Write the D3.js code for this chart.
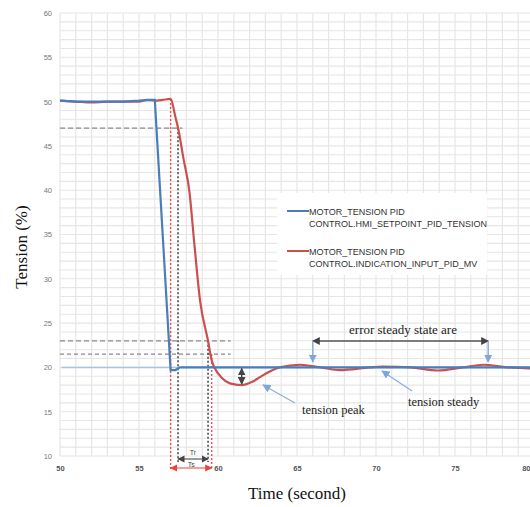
<!DOCTYPE html>
<html><head><meta charset="utf-8">
<script src="https://cdn.jsdelivr.net/npm/d3@7"></script>
<style>body{margin:0;background:#fff}</style>
</head><body>
<svg id="c" width="530" height="507"></svg>
<script>
const xTicks = [50,55,60,65,70,75,80];
const yTicks = [10,15,20,25,30,35,40,45,50,55,60];
const setpointT = [50,51,52,53,54,55,55.7,56.0,57.0,57.3,57.6,80];
const setpointV = [50.1,50.0,50.0,50.0,50.0,50.1,50.2,50.2,19.7,19.7,20.0,20.0];
const mvT = [50,51,52,53,54,55,55.5,56,56.5,57.0,57.3,57.5,57.8,58.2,58.5,58.86,59.37,59.6,59.8,60.25,60.75,61.5,62.2,62.65,63.9,65.2,66.5,67.7,69.6,70.4,72.2,73.9,75.5,76.8,78.3,79.7,80];
const mvV = [50.1,50.0,49.9,50.0,50.0,50.0,50.2,50.1,50.2,50.3,48.3,46.8,43.7,39.7,34.0,27.6,23.0,20.8,19.9,18.8,18.2,18.0,18.4,18.9,20.0,20.3,20.0,19.7,20.0,20.1,20.0,19.65,20.0,20.3,20.0,19.9,19.9];
const refLevels = [47, 23, 21.5];
const legendLines1 = ["MOTOR_TENSION PID","CONTROL.HMI_SETPOINT_PID_TENSION"];
const legendLines2 = ["MOTOR_TENSION PID","CONTROL.INDICATION_INPUT_PID_MV"];

const svg = d3.select("#c");
const x = d3.scaleLinear().domain([50,80]).range([60,534]);
const y = d3.scaleLinear().domain([10,60]).range([456,13]);

// grid
const g = svg.append("g");
g.selectAll(".vg").data(d3.range(50,81,1)).join("line")
 .attr("x1",d=>x(d)).attr("x2",d=>x(d)).attr("y1",y(60)).attr("y2",y(10))
 .attr("stroke","#e6e6e6").attr("stroke-width",1.2);
g.selectAll(".hg").data(d3.range(10,61,1)).join("line")
 .attr("x1",x(50)).attr("x2",x(80)).attr("y1",d=>y(d)).attr("y2",d=>y(d))
 .attr("stroke","#e6e6e6").attr("stroke-width",1.1);

// axes
const ya = d3.axisLeft(y).tickValues(yTicks).tickSize(0).tickPadding(8);
svg.append("g").attr("transform",`translate(${x(50)},0)`).call(ya)
 .call(s=>s.select(".domain").remove())
 .selectAll("text").attr("font-family","Liberation Sans").attr("font-size",7.5).attr("fill","#777");
const xa = d3.axisBottom(x).tickValues(xTicks).tickSize(0).tickPadding(10);
svg.append("g").attr("transform",`translate(0,${y(10)})`).call(xa)
 .call(s=>s.select(".domain").remove())
 .selectAll("text").attr("font-family","Liberation Sans").attr("font-weight","bold").attr("font-size",7.5).attr("fill","#555")
 .attr("text-anchor",d=>d===80?"end":"middle").attr("dx",d=>d===80?"-4":"0");

// dashed horizontal reference lines
const ends = [x(57.75), x(60.8), x(60.8)];
svg.selectAll(".ref").data(refLevels).join("line")
 .attr("x1",x(50)).attr("x2",(d,i)=>ends[i]).attr("y1",d=>y(d)).attr("y2",d=>y(d))
 .attr("stroke","#8a8a8a").attr("stroke-width",1.3).attr("stroke-dasharray",(d,i)=>i==2?"4,3":"5,3");

// light setpoint reference line
svg.append("line").attr("x1",x(50.1)).attr("x2",x(80)).attr("y1",y(20)).attr("y2",y(20))
 .attr("stroke","#a9c3e2").attr("stroke-width",1.5);

// vertical dotted lines
const vdots = [[57.0,50.3,"#f05050",470],[57.47,47,"#333",462],[59.37,23,"#333",462],[59.6,21.5,"#f05050",470]];
svg.selectAll(".vd").data(vdots).join("line")
 .attr("x1",d=>x(d[0])).attr("x2",d=>x(d[0])).attr("y1",d=>y(d[1])).attr("y2",d=>d[3])
 .attr("stroke",d=>d[2]).attr("stroke-width",1.4).attr("stroke-dasharray","2,2");

// series
const line = d3.line().x(d=>x(d[0])).y(d=>y(d[1]));
svg.append("path").datum(mvT.map((t,i)=>[t,mvV[i]]))
 .attr("d",line.curve(d3.curveMonotoneX)).attr("fill","none").attr("stroke","#c9504f").attr("stroke-width",2.2);
svg.append("path").datum(setpointT.map((t,i)=>[t,setpointV[i]]))
 .attr("d",d3.line().x(d=>x(d[0])).y(d=>y(d[1]))).attr("fill","none").attr("stroke","#4a7ebb").attr("stroke-width",2.2);

// arrows
const defs = svg.append("defs");
function marker(id,color){
  defs.append("marker").attr("id",id).attr("viewBox","0 0 10 10").attr("refX",9).attr("refY",5)
   .attr("markerWidth",6).attr("markerHeight",6).attr("orient","auto-start-reverse")
   .append("path").attr("d","M0,0L10,5L0,10z").attr("fill",color);
}
marker("ak","#444"); marker("ar","#f04040"); marker("ab","#7ea6d8");
function arrow(x1,y1,x2,y2,color,m,both,w){
  const l = svg.append("line").attr("x1",x1).attr("y1",y1).attr("x2",x2).attr("y2",y2)
   .attr("stroke",color).attr("stroke-width",w||1.2).attr("marker-end",`url(#${m})`);
  if(both) l.attr("marker-start",`url(#${m})`);
}
arrow(x(57.47),459,x(59.37),459,"#555","ak",true);
arrow(x(57.0),468,x(59.6),468,"#f04040","ar",true);
svg.append("text").attr("x",(x(57.47)+x(59.37))/2).attr("y",455).attr("text-anchor","middle")
 .attr("font-family","Liberation Sans").attr("font-size",7).attr("fill","#444").text("Tr");
svg.append("text").attr("x",(x(57.0)+x(59.6))/2).attr("y",467).attr("text-anchor","middle")
 .attr("font-family","Liberation Sans").attr("font-size",7).attr("fill","#444").text("Ts");
// peak arrow
arrow(x(61.5),y(20)+1,x(61.5),y(18)-1,"#333","ak",true,1.3);
// error steady state
arrow(x(66.0),341,x(77.1),341,"#555","ak",true,1.3);
svg.append("line").attr("x1",x(66.0)).attr("x2",x(66.0)).attr("y1",341).attr("y2",362).attr("stroke","#7ea6d8").attr("stroke-width",1.3).attr("marker-end","url(#ab)");
svg.append("line").attr("x1",x(77.1)).attr("x2",x(77.1)).attr("y1",341).attr("y2",362).attr("stroke","#7ea6d8").attr("stroke-width",1.3).attr("marker-end","url(#ab)");
svg.append("text").attr("x",403).attr("y",334).attr("text-anchor","middle")
 .attr("font-family","Liberation Serif").attr("font-size",13).attr("fill","#222").text("error steady state are");
// annotation arrows
arrow(295,403,263,385,"#8fb1dc","ab",false,1.4);
svg.append("text").attr("x",302).attr("y",414).attr("font-family","Liberation Serif").attr("font-size",12.5).attr("fill","#222").text("tension peak");
arrow(412,391,382,371,"#8fb1dc","ab",false,1.4);
svg.append("text").attr("x",408).attr("y",406).attr("font-family","Liberation Serif").attr("font-size",12.5).attr("fill","#222").text("tension steady");

// legend
svg.append("rect").attr("x",277).attr("y",193).attr("width",210).attr("height",82).attr("fill","#fff");
const lg = [[legendLines1,"#4a7ebb",211],[legendLines2,"#c9504f",251]];
lg.forEach(([lines,col,ly])=>{
  svg.append("line").attr("x1",287).attr("x2",309).attr("y1",ly).attr("y2",ly).attr("stroke",col).attr("stroke-width",2);
  lines.forEach((t,i)=>svg.append("text").attr("x",309).attr("y",ly+3.5+i*12.5)
   .attr("font-family","Liberation Sans").attr("font-size",9).attr("fill","#333").text(t));
});

// titles
svg.append("text").attr("transform","translate(27,247) rotate(-90)").attr("text-anchor","middle")
 .attr("font-family","Liberation Serif").attr("font-size",17).attr("fill","#111").text("Tension (%)");
svg.append("text").attr("x",297).attr("y",499).attr("text-anchor","middle")
 .attr("font-family","Liberation Serif").attr("font-size",17).attr("fill","#111").text("Time (second)");
</script>
</body></html>
